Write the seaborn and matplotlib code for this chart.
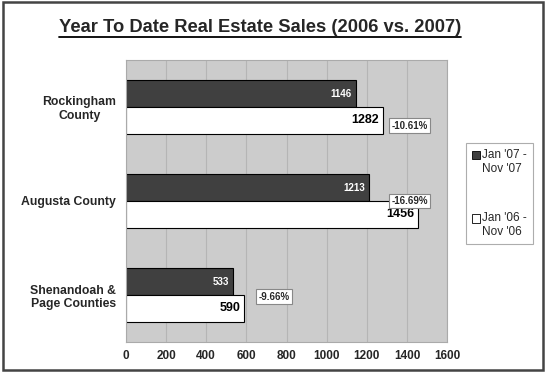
import pandas as pd
import seaborn as sns
import matplotlib.pyplot as plt
from matplotlib.patches import Rectangle
from matplotlib.lines import Line2D

# data
regions = ["Rockingham\nCounty", "Augusta County", "Shenandoah &\nPage Counties"]
sales_2007 = [1146, 1213, 533]
sales_2006 = [1282, 1456, 590]
periods = ["Jan '07 -\nNov '07", "Jan '06 -\nNov '06"]
x_ticks = [0, 200, 400, 600, 800, 1000, 1200, 1400, 1600]

df = pd.DataFrame({
    "Region": regions * 2,
    "Sales": sales_2007 + sales_2006,
    "Period": [periods[0]] * 3 + [periods[1]] * 3,
})
pct = [(a - b) / b * 100 for a, b in zip(sales_2007, sales_2006)]

sns.set_style("white")
plt.rcParams["font.family"] = ["Liberation Sans", "DejaVu Sans"]

fig = plt.figure(figsize=(5.5, 3.75), dpi=100)
ax = fig.add_axes([0.229, 0.088, 0.584, 0.752])
sns.barplot(
    data=df, x="Sales", y="Region", hue="Period", orient="h",
    palette=["#404040", "white"], edgecolor="black", linewidth=0.8,
    width=0.57, ax=ax, saturation=1,
)

ax.set_facecolor("#cccccc")
ax.set_xlim(0, 1600)
ax.set_ylim(2.5, -0.5)
ax.set_xticks(x_ticks)
ax.set_xticklabels([str(t) for t in x_ticks], fontsize=8.5, fontweight="bold")
ax.set_yticklabels(regions, fontsize=8.8, fontweight="bold", multialignment="center")
ax.tick_params(axis="y", length=0, pad=7)
ax.tick_params(axis="x", length=0, pad=6)
ax.set_yticks([-0.5, 0.5, 1.5, 2.5], minor=True)
ax.tick_params(axis="y", which="minor", length=4, color="#999999")
ax.grid(axis="x", color="#b5b5b5", linewidth=0.8)
ax.set_axisbelow(True)
ax.set_xlabel("")
ax.set_ylabel("")
for s in ax.spines.values():
    s.set_color("#aaaaaa")
    s.set_linewidth(0.8)

# value labels inside the bar ends
dark, light = ax.containers[0], ax.containers[1]
for bar in dark:
    ax.annotate(f"{int(bar.get_width())}", (bar.get_width(), bar.get_y() + bar.get_height() / 2),
                xytext=(-3, 0), textcoords="offset points", ha="right", va="center",
                color="white", fontsize=7, fontweight="bold")
for bar in light:
    ax.annotate(f"{int(bar.get_width())}", (bar.get_width(), bar.get_y() + bar.get_height() / 2),
                xytext=(-3, 0), textcoords="offset points", ha="right", va="center",
                color="black", fontsize=9, fontweight="bold")

# percentage change boxes
pct_spots = [(1322, 0.2), (1322, 1.0), (660, 2.02)]
for (px, py), p in zip(pct_spots, pct):
    ax.text(px, py, f"{p:.2f}%", ha="left", va="center", fontsize=7, fontweight="bold",
            bbox=dict(boxstyle="square,pad=0.25", fc="white", ec="#888888", lw=0.8))

# legend outside the plot
handles, labels = ax.get_legend_handles_labels()
ax.get_legend().remove()
leg = fig.legend(handles, labels, loc="upper left", bbox_to_anchor=(0.847, 0.619),
                 fontsize=8.5, frameon=True, fancybox=False, edgecolor="#999999",
                 handlelength=0.7, handleheight=0.7, handletextpad=0.2,
                 labelspacing=3.2, borderpad=0.5, borderaxespad=0)
leg.get_frame().set_linewidth(0.8)
for h in leg.legend_handles:
    h.set_edgecolor("black")
    h.set_linewidth(0.6)
    h.set_y(h.get_y() + 8.5 * 0.6)

# title with underline
title = fig.text(0.473, 0.928, "Year To Date Real Estate Sales (2006 vs. 2007)",
                 ha="center", va="center", fontsize=13.2, fontweight="bold")
fig.canvas.draw()
bb = title.get_window_extent().transformed(fig.transFigure.inverted())
fig.add_artist(Line2D([bb.x0, bb.x1], [bb.y0 - 0.004, bb.y0 - 0.004],
                      color="black", linewidth=1.3, transform=fig.transFigure))

# outer frame
fig.add_artist(Rectangle((0.006, 0.014), 0.981, 0.98, transform=fig.transFigure,
                         fill=False, edgecolor="#444444", linewidth=1.8))

plt.savefig("out.png", dpi=100)
